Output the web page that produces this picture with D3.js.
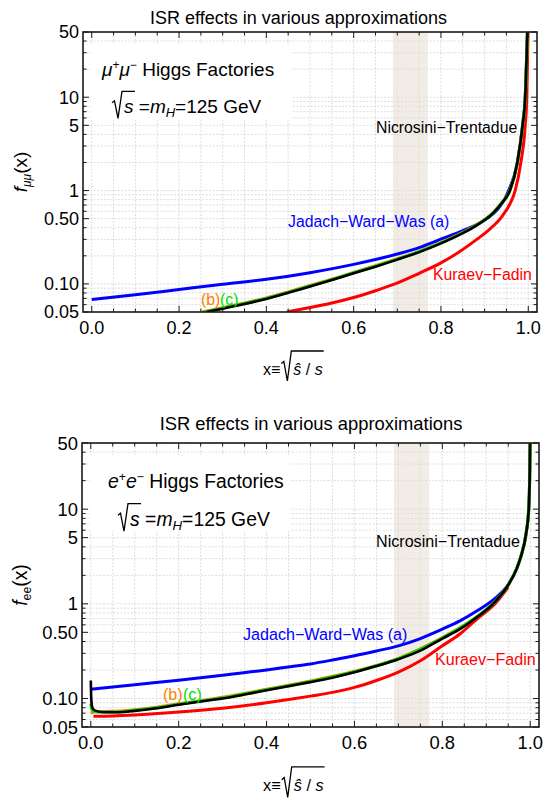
<!DOCTYPE html>
<html>
<head>
<meta charset="utf-8">
<script src="https://cdn.jsdelivr.net/npm/d3@7"></script>
<style>
  body { margin: 0; background: #fff; }
  text { font-family: "Liberation Sans", Arial, sans-serif; }
</style>
</head>
<body>
<div id="chart"></div>
<script>
// Values

const xTicks = [0, 0.2, 0.4, 0.6, 0.8, 1.0];
const xTickLabels = ["0.0", "0.2", "0.4", "0.6", "0.8", "1.0"];
const yTicks = [0.05, 0.1, 0.5, 1, 5, 10, 50];
const yTickLabels = ["0.05", "0.10", "0.50", "1", "5", "10", "50"];
const higgsBand = [0.69, 0.77];

// mu+ mu- panel, [x, f(x)]
const muJWW = [[0, 0.068], [0.1, 0.0765], [0.2, 0.087], [0.3, 0.099], [0.4, 0.112], [0.5, 0.132], [0.6, 0.162],
  [0.7, 0.209], [0.75, 0.245], [0.794, 0.295], [0.85, 0.372], [0.905, 0.5], [0.93, 0.63], [0.944, 0.78], [0.955, 1.0],
  [0.975, 2.0], [0.987, 5], [0.993, 10], [0.998, 50]];
const muNT = [[0.263, 0.05], [0.3, 0.0542], [0.35, 0.0608], [0.4, 0.069], [0.45, 0.0802], [0.5, 0.094], [0.55, 0.11],
  [0.6, 0.13], [0.65, 0.153], [0.7, 0.182], [0.75, 0.219], [0.8, 0.272], [0.85, 0.35], [0.88, 0.419], [0.92, 0.578],
  [0.94, 0.74], [0.958, 1.0], [0.975, 2.0], [0.987, 5], [0.993, 10], [0.998, 50]];
const muB = [[0.252, 0.05], [0.3, 0.0557], [0.35, 0.0625], [0.4, 0.0708], [0.45, 0.0822], [0.5, 0.0962], [0.55, 0.1125],
  [0.6, 0.133], [0.65, 0.1565], [0.7, 0.186], [0.75, 0.2235], [0.8, 0.277], [0.85, 0.356], [0.88, 0.425], [0.92, 0.585],
  [0.94, 0.75], [0.958, 1.01], [0.975, 2.0], [0.987, 5], [0.993, 10], [0.998, 50]];
const muC = [[0.257, 0.05], [0.3, 0.055], [0.35, 0.0617], [0.4, 0.0699], [0.45, 0.0812], [0.5, 0.0951], [0.55, 0.1112],
  [0.6, 0.1315], [0.65, 0.1548], [0.7, 0.184], [0.75, 0.2212], [0.8, 0.2745], [0.85, 0.353], [0.88, 0.422],
  [0.92, 0.581], [0.94, 0.745], [0.958, 1.0], [0.975, 2.0], [0.987, 5], [0.993, 10], [0.998, 50]];
const muKF = [[0.447, 0.05], [0.5, 0.056], [0.55, 0.0625], [0.6, 0.0715], [0.65, 0.0845], [0.69, 0.098], [0.75, 0.13],
  [0.8, 0.168], [0.828, 0.2], [0.882, 0.3], [0.91, 0.38], [0.94, 0.53], [0.958, 0.72], [0.97, 1.0], [0.983, 2.0],
  [0.993, 5], [0.9966, 10], [0.9995, 50]];

// e+ e- panel, [x, f(x)]
const eeJWW = [[0, 0.125], [0.1, 0.14], [0.2, 0.156], [0.3, 0.176], [0.4, 0.2], [0.454, 0.217], [0.5, 0.232],
  [0.55, 0.255], [0.6, 0.283], [0.65, 0.318], [0.7, 0.36], [0.75, 0.43], [0.8, 0.54], [0.84, 0.66], [0.88, 0.85],
  [0.92, 1.14], [0.95, 1.6], [0.97, 2.4], [0.98, 3.3], [0.99, 5.3], [0.9966, 10], [0.999, 25], [0.9997, 50]];
const eeNT = [[0, 0.155], [0.0005, 0.12], [0.0015, 0.092], [0.004, 0.079], [0.01, 0.0745], [0.03, 0.0715],
  [0.06, 0.0715], [0.1, 0.074], [0.15, 0.079], [0.2, 0.086], [0.25, 0.093], [0.3, 0.1], [0.35, 0.11], [0.4, 0.122],
  [0.454, 0.136], [0.5, 0.149], [0.55, 0.166], [0.6, 0.189], [0.65, 0.22], [0.7, 0.26], [0.75, 0.32], [0.8, 0.43],
  [0.84, 0.54], [0.88, 0.73], [0.92, 1.05], [0.95, 1.58], [0.97, 2.4], [0.98, 3.3], [0.99, 5.3], [0.9966, 10],
  [0.999, 25], [0.9997, 50]];
const eeB = [[0, 0.07], [0.01, 0.0725], [0.03, 0.073], [0.06, 0.0735], [0.1, 0.076], [0.15, 0.081], [0.2, 0.088],
  [0.3, 0.103], [0.4, 0.125], [0.5, 0.153], [0.6, 0.194], [0.7, 0.266], [0.8, 0.44], [0.88, 0.74], [0.92, 1.06],
  [0.95, 1.58], [0.97, 2.4], [0.98, 3.3], [0.99, 5.3], [0.9966, 10], [0.999, 25], [0.9997, 50]];
const eeC = [[0, 0.088], [0.002, 0.078], [0.006, 0.0735], [0.03, 0.072], [0.06, 0.072], [0.1, 0.075], [0.15, 0.08],
  [0.2, 0.087], [0.3, 0.1015], [0.4, 0.1235], [0.5, 0.151], [0.6, 0.1915], [0.7, 0.263], [0.8, 0.435], [0.88, 0.735],
  [0.92, 1.055], [0.95, 1.58], [0.97, 2.4], [0.98, 3.3], [0.99, 5.3], [0.9966, 10], [0.999, 25], [0.9997, 50]];
const eeKF = [[0.006, 0.065], [0.05, 0.0655], [0.1, 0.067], [0.2, 0.072], [0.3, 0.079], [0.4, 0.09], [0.454, 0.098],
  [0.5, 0.106], [0.55, 0.116], [0.6, 0.131], [0.65, 0.155], [0.7, 0.19], [0.75, 0.25], [0.8, 0.36], [0.84, 0.48],
  [0.88, 0.7], [0.92, 1.0], [0.95, 1.5]];

const colours = { jww: "#0000ff", nt: "#000000", b: "#ff8000", c: "#00e000", kf: "#ff0000" };

const svg = d3.select("#chart").append("svg")
    .attr("width", 544)
    .attr("height", 801);

// Radical sign drawn as a path, returns x where the radicand starts
function radical(g, x0, base, h, w) {
    g.append("path")
        .attr("d", "M" + x0 + "," + (base - h * 0.38) + "L" + (x0 + 2.5) + "," + (base - h * 0.45)
            + "L" + (x0 + 6) + "," + (base + h * 0.2) + "L" + (x0 + 10) + "," + (base - h * 0.8)
            + "L" + (x0 + 10 + w) + "," + (base - h * 0.8))
        .attr("fill", "none")
        .attr("stroke", "#000")
        .attr("stroke-width", 1.3);
    return x0 + 12;
}

function drawPanel(cfg) {
    const k = cfg.k;
    const g = svg.append("g");
    const x = d3.scaleLinear().domain([-0.02, 1.02]).range([cfg.left, cfg.right]);
    const y = d3.scaleLog().domain([0.05, 50]).range([cfg.bottom, cfg.top]);

    // Grid lines
    const xGrid = d3.range(0, 21).map((i) => i * 0.05);
    const yGrid = [];
    [0.01, 0.1, 1, 10].forEach((d) => d3.range(1, 10).forEach((m) => {
        const v = +(d * m).toPrecision(3);
        if (v >= 0.05 && v <= 50) yGrid.push(v);
    }));
    const yMinor = yGrid.filter((v) => yTicks.indexOf(v) < 0);

    g.selectAll(".gx").data(xGrid).enter().append("line")
        .attr("x1", (d) => x(d)).attr("x2", (d) => x(d))
        .attr("y1", cfg.top).attr("y2", cfg.bottom)
        .attr("stroke", "#d4d4d4").attr("stroke-width", 0.8).attr("stroke-dasharray", "2,1.5");
    g.selectAll(".gy").data(yGrid).enter().append("line")
        .attr("x1", cfg.left).attr("x2", cfg.right)
        .attr("y1", (d) => y(d)).attr("y2", (d) => y(d))
        .attr("stroke", "#d4d4d4").attr("stroke-width", 0.8).attr("stroke-dasharray", "2,1.5");

    // Shaded band
    g.append("rect")
        .attr("x", x(higgsBand[0])).attr("width", x(higgsBand[1]) - x(higgsBand[0]))
        .attr("y", cfg.top).attr("height", cfg.bottom - cfg.top)
        .attr("fill", "#e6ddd2").attr("opacity", 0.55);

    // White box behind the header
    g.append("rect")
        .attr("x", cfg.left + 8).attr("y", cfg.top + 12)
        .attr("width", 200).attr("height", 76)
        .attr("fill", "#fff");

    // Curves
    g.append("clipPath").attr("id", "clip" + cfg.id)
        .append("rect")
        .attr("x", cfg.left).attr("y", cfg.top)
        .attr("width", cfg.right - cfg.left).attr("height", cfg.bottom - cfg.top);

    const line = d3.line()
        .x((d) => x(d[0]))
        .y((d) => y(d[1]))
        .curve(d3.curveMonotoneX);

    const curves = g.append("g").attr("clip-path", "url(#clip" + cfg.id + ")");
    cfg.series.forEach((s) => {
        curves.append("path")
            .attr("d", line(s.data))
            .attr("fill", "none")
            .attr("stroke", s.colour)
            .attr("stroke-width", s.width);
    });

    // Frame and ticks
    g.append("rect")
        .attr("x", cfg.left).attr("y", cfg.top)
        .attr("width", cfg.right - cfg.left).attr("height", cfg.bottom - cfg.top)
        .attr("fill", "none").attr("stroke", "#1a1a1a").attr("stroke-width", 1.6);

    const xMinor = xGrid.filter((v) => !xTicks.some((m) => Math.abs(m - v) < 1e-9));
    const tick = (x1, y1, x2, y2) => g.append("line")
        .attr("x1", x1).attr("y1", y1).attr("x2", x2).attr("y2", y2)
        .attr("stroke", "#1a1a1a").attr("stroke-width", 1);
    xTicks.forEach((v) => { tick(x(v), cfg.bottom, x(v), cfg.bottom - 6); tick(x(v), cfg.top, x(v), cfg.top + 6); });
    xMinor.forEach((v) => { tick(x(v), cfg.bottom, x(v), cfg.bottom - 3.5); tick(x(v), cfg.top, x(v), cfg.top + 3.5); });
    yTicks.forEach((v) => { tick(cfg.left, y(v), cfg.left + 6, y(v)); tick(cfg.right, y(v), cfg.right - 6, y(v)); });
    yMinor.forEach((v) => { tick(cfg.left, y(v), cfg.left + 3.5, y(v)); tick(cfg.right, y(v), cfg.right - 3.5, y(v)); });

    g.selectAll(".xl").data(xTicks).enter().append("text")
        .attr("x", (d) => x(d)).attr("y", cfg.bottom + 22 * k)
        .attr("text-anchor", "middle").attr("font-size", 18 * k)
        .text((d, i) => xTickLabels[i]);
    g.selectAll(".yl").data(yTicks).enter().append("text")
        .attr("x", cfg.left - 4).attr("y", (d) => y(d))
        .attr("dy", "0.36em")
        .attr("text-anchor", "end").attr("font-size", 18 * k)
        .text((d, i) => yTickLabels[i]);

    // Title
    g.append("text")
        .attr("x", cfg.titleX).attr("y", cfg.titleY)
        .attr("text-anchor", "middle").attr("font-size", 18 * k)
        .text("ISR effects in various approximations");

    // y axis label
    const yl = g.append("text")
        .attr("transform", "translate(" + 27 + "," + ((cfg.top + cfg.bottom) / 2) + ") rotate(-90)")
        .attr("text-anchor", "middle").attr("font-size", 19 * k);
    yl.append("tspan").attr("font-style", "italic").text("f");
    yl.append("tspan").attr("font-size", 12 * k).attr("dy", 4)
        .attr("font-style", cfg.subItalic ? "italic" : null).text(cfg.sub);
    yl.append("tspan").attr("dy", -4).text("(x)");

    // x axis label: x≡√(ŝ / s)
    const xb = cfg.bottom + 63 * k;
    const xg = g.append("g");
    const x0 = xg.append("text").attr("x", cfg.xLabelX).attr("y", xb).attr("font-size", 16 * k).text("x≡");
    const rx = cfg.xLabelX + x0.node().getComputedTextLength() + 1;
    const rt = xg.append("text").attr("y", xb).attr("font-size", 16 * k);
    rt.append("tspan").attr("font-style", "italic").text("ŝ");
    rt.append("tspan").text(" / ");
    rt.append("tspan").attr("font-style", "italic").text("s");
    const rw = rt.node().getComputedTextLength();
    const rs = radical(xg, rx, xb, 30 * k, rw + 3);
    rt.attr("x", rs);

    // Header: particles, Higgs Factories
    const h1 = g.append("text").attr("x", cfg.headX).attr("y", cfg.top + 44 * k).attr("font-size", 19 * k);
    h1.append("tspan").attr("font-style", "italic").text(cfg.particle);
    h1.append("tspan").attr("font-size", 12 * k).attr("dy", -7 * k).text("+");
    h1.append("tspan").attr("font-style", "italic").attr("dy", 7 * k).text(cfg.particle);
    h1.append("tspan").attr("font-size", 12 * k).attr("dy", -7 * k).text("\u2212");
    h1.append("tspan").attr("dy", 7 * k).text(" Higgs Factories");

    const b2 = cfg.top + 81 * k;
    const sx = radical(g, cfg.headX + 10, b2, 27 * k, 13);
    const h2 = g.append("text").attr("x", sx).attr("y", b2).attr("font-size", 19 * k);
    h2.append("tspan").attr("font-style", "italic").text("s");
    h2.append("tspan").text(" =");
    h2.append("tspan").attr("font-style", "italic").text("m");
    h2.append("tspan").attr("font-style", "italic").attr("font-size", 13 * k).attr("dy", 4 * k).text("H");
    h2.append("tspan").attr("dy", -4 * k).text("=125 GeV");

    // Curve labels
    cfg.labels.forEach((l) => {
        g.append("text")
            .attr("x", l.x).attr("y", l.y)
            .attr("font-size", 15.8 * k)
            .attr("fill", l.colour)
            .text(l.text);
    });
}

drawPanel({
    id: "mu", k: 1,
    left: 83, right: 537, top: 32, bottom: 312,
    titleX: 298.5, titleY: 24,
    sub: "\u03bc\u03bc", subItalic: true,
    particle: "\u03bc", headX: 102,
    xLabelX: 263,
    series: [
        { data: muJWW, colour: colours.jww, width: 3 },
        { data: muKF, colour: colours.kf, width: 3 },
        { data: muB, colour: colours.b, width: 3 },
        { data: muC, colour: colours.c, width: 3 },
        { data: muNT, colour: colours.nt, width: 2.6 }
    ],
    labels: [
        { text: "Nicrosini\u2212Trentadue", x: 376, y: 133, colour: "#000" },
        { text: "Jadach\u2212Ward\u2212Was (a)", x: 288, y: 227, colour: colours.jww },
        { text: "Kuraev\u2212Fadin", x: 433, y: 280, colour: colours.kf },
        { text: "(b)", x: 201, y: 305, colour: colours.b },
        { text: "(c)", x: 220, y: 305, colour: colours.c }
    ]
});

drawPanel({
    id: "ee", k: 1.02,
    left: 82, right: 539, top: 443, bottom: 727,
    titleX: 311, titleY: 430,
    sub: "ee", subItalic: false,
    particle: "e", headX: 108,
    xLabelX: 263,
    series: [
        { data: eeJWW, colour: colours.jww, width: 3 },
        { data: eeKF, colour: colours.kf, width: 3 },
        { data: eeB, colour: colours.b, width: 3 },
        { data: eeC, colour: colours.c, width: 3 },
        { data: eeNT, colour: colours.nt, width: 2.6 }
    ],
    labels: [
        { text: "Nicrosini\u2212Trentadue", x: 376, y: 547, colour: "#000" },
        { text: "Jadach\u2212Ward\u2212Was (a)", x: 243, y: 640, colour: colours.jww },
        { text: "Kuraev\u2212Fadin", x: 435, y: 665, colour: colours.kf },
        { text: "(b)", x: 163, y: 700, colour: colours.b },
        { text: "(c)", x: 183, y: 700, colour: colours.c }
    ]
});
</script>
</body>
</html>
